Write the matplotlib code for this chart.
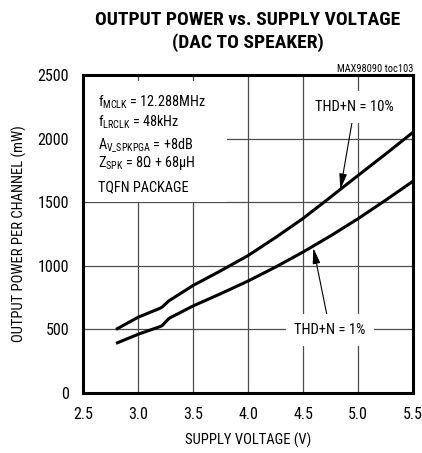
import matplotlib
matplotlib.use("Agg")
import matplotlib.pyplot as plt
from matplotlib import font_manager
from matplotlib.patches import Rectangle

# supply voltage (V) and output power per channel (mW)
supply_v = [2.8, 3.0, 3.2, 3.22, 3.28, 3.3, 3.5, 3.75, 4.0, 4.25, 4.5, 4.75, 5.0, 5.25, 5.5]
pout_10pct = [500, 595, 666, 676, 724, 735, 845, 960, 1080, 1222, 1372, 1540, 1710, 1878, 2050]
pout_1pct = [390, 461, 522, 530, 585, 595, 684, 780, 880, 990, 1108, 1235, 1370, 1515, 1665]

x_ticks = [2.5, 3.0, 3.5, 4.0, 4.5, 5.0, 5.5]
y_ticks = [0, 500, 1000, 1500, 2000, 2500]

conditions = [
    r"f$_{\mathrm{MCLK}}$ = 12.288MHz",
    r"f$_{\mathrm{LRCLK}}$ = 48kHz",
    r"A$_{\mathrm{V\_SPKPGA}}$ = +8dB",
    r"Z$_{\mathrm{SPK}}$ = 8$\Omega$ + 68$\mu$H",
    "TQFN PACKAGE",
]


def pick_font(names, fallback):
    have = {f.name for f in font_manager.fontManager.ttflist}
    for n in names:
        if n in have:
            return n
    return fallback


narrow = pick_font(["Liberation Sans Narrow", "Roboto Condensed", "DejaVu Sans Condensed",
                    "Open Sans Condensed"], "Liberation Sans")

plt.rcParams["font.family"] = [narrow, "DejaVu Sans"]
plt.rcParams["mathtext.fontset"] = "custom"
plt.rcParams["mathtext.rm"] = narrow
plt.rcParams["mathtext.it"] = narrow
plt.rcParams["mathtext.sf"] = narrow


def main():
    fig = plt.figure(figsize=(4.22, 4.53), dpi=100)
    ax = fig.add_axes([0.1967, 0.1325, 0.782, 0.7019])

    ax.plot(supply_v, pout_10pct, color="black", lw=2.2, zorder=4, solid_capstyle="butt")
    ax.plot(supply_v, pout_1pct, color="black", lw=2.2, zorder=4, solid_capstyle="butt")

    ax.set_xlim(2.5, 5.5)
    ax.set_ylim(0, 2500)
    ax.set_xticks(x_ticks)
    ax.set_xticklabels([f"{v:.1f}" for v in x_ticks])
    ax.set_yticks(y_ticks)
    ax.grid(True, color="0.3", lw=0.9, zorder=1)
    ax.set_axisbelow(True)
    ax.tick_params(length=0, labelsize=11.5, pad=10)
    for s in ax.spines.values():
        s.set_linewidth(2.2)
        s.set_zorder(6)

    ax.set_xlabel("SUPPLY VOLTAGE (V)", fontsize=10.5, labelpad=8)
    ax.set_ylabel("OUTPUT POWER PER CHANNEL (mW)", fontsize=10.5, labelpad=8)

    # white block behind the test conditions
    ax.add_patch(Rectangle((0.0, 0.6), 0.435, 0.38, transform=ax.transAxes,
                           facecolor="white", edgecolor="none", zorder=2))
    ys = [0.900, 0.837, 0.769, 0.711, 0.633]
    for txt, yy in zip(conditions, ys):
        ax.text(0.045, yy, txt, transform=ax.transAxes, fontsize=10.3,
                va="baseline", ha="left", zorder=3)

    box = dict(boxstyle="square,pad=0.6", facecolor="white", edgecolor="none")
    ax.annotate("THD+N = 10%", xy=(4.84, 1600), xytext=(4.97, 2250),
                ha="center", va="center", fontsize=10.5, bbox=box, zorder=5,
                arrowprops=dict(arrowstyle="-|>,head_length=0.9,head_width=0.22",
                                color="black", lw=0.8, shrinkA=0, shrinkB=0))
    ax.annotate("THD+N = 1%", xy=(4.594, 1140), xytext=(4.745, 495),
                ha="center", va="center", fontsize=10.5, bbox=box, zorder=5,
                arrowprops=dict(arrowstyle="-|>,head_length=0.9,head_width=0.22",
                                color="black", lw=0.8, shrinkA=0, shrinkB=0))

    fig.text(0.5877, 0.956, "OUTPUT POWER vs. SUPPLY VOLTAGE", ha="center", va="center",
             fontsize=14, fontweight="bold")
    fig.text(0.5877, 0.905, "(DAC TO SPEAKER)", ha="center", va="center",
             fontsize=14, fontweight="bold")
    fig.text(0.9787, 0.847, "MAX98090 toc103", ha="right", va="center", fontsize=7.5)

    fig.savefig("out.png", dpi=100)


if __name__ == "__main__":
    main()
